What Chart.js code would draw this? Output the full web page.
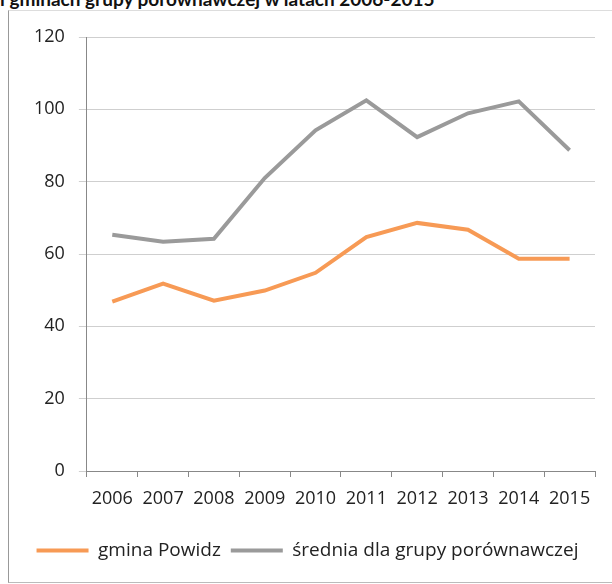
<!DOCTYPE html>
<html>
<head>
<meta charset="utf-8">
<script src="https://cdn.jsdelivr.net/npm/chart.js@4/dist/chart.umd.min.js"></script>
<style>
  html, body { margin: 0; padding: 0; background: #fff; }
  body { width: 612px; height: 584px; position: relative; overflow: hidden; }
  #title { position: absolute; left: 0; top: -13px; font: bold 19px Lato, sans-serif; color: #111; white-space: nowrap; }
  #frame { position: absolute; left: 8px; top: 10px; width: 640px; height: 571px; border-left: 1px solid #999; border-top: 1px solid #ddd; border-bottom: 1px solid #bbb; }
  #wrap { position: absolute; left: 0; top: 0; width: 612px; height: 584px; }
</style>
</head>
<body>
<div id="title">i gminach grupy porównawczej w latach 2006-2015</div>
<div id="frame"></div>
<div id="wrap"><canvas id="myChart"></canvas></div>
<script>
const years = ['2006', '2007', '2008', '2009', '2010', '2011', '2012', '2013', '2014', '2015'];
const powidz = [46.8, 51.8, 47.1, 49.9, 54.8, 64.7, 68.6, 66.7, 58.7, 58.7];
const srednia = [65.3, 63.4, 64.2, 81.0, 94.2, 102.5, 92.3, 98.9, 102.2, 88.7];
const yTicks = [0, 20, 40, 60, 80, 100, 120];

const ctx = document.getElementById('myChart');
const myChart = new Chart(ctx, {
    type: 'line',
    data: {
        labels: years,
        datasets: [{
            label: 'gmina Powidz',
            data: powidz,
            borderColor: '#f79a55',
            backgroundColor: '#f79a55',
            borderWidth: 4,
            pointRadius: 0,
            tension: 0,
        }, {
            label: 'średnia dla grupy porównawczej',
            data: srednia,
            borderColor: '#9a9a9a',
            backgroundColor: '#9a9a9a',
            borderWidth: 4,
            pointRadius: 0,
            tension: 0,
        }]
    },
    options: {
        responsive: true,
        maintainAspectRatio: false,
        animation: false,
        layout: {
            padding: { left: 20, right: 17, top: 37, bottom: 14 },
        },
        plugins: {
            legend: {
                position: 'bottom',
                labels: {
                    font: { family: 'Open Sans', size: 19 },
                    color: '#222',
                    boxWidth: 52,
                    boxHeight: 4,
                    padding: 10,
                    generateLabels: chart => Chart.defaults.plugins.legend.labels.generateLabels(chart)
                        .map(l => Object.assign(l, { lineWidth: 0 })),
                },
            },
            title: { display: false },
            tooltip: { enabled: false },
        },
        scales: {
            x: {
                offset: true,
                afterFit: axis => { axis.height = 60; },
                grid: {
                    display: true,
                    drawOnChartArea: false,
                    offset: true,
                    tickLength: 6,
                    color: '#888',
                },
                border: { color: '#888' },
                ticks: {
                    font: { family: 'Open Sans', size: 18 },
                    color: '#222',
                    maxRotation: 0,
                    padding: 11,
                },
            },
            y: {
                min: 0,
                max: 120,
                afterBuildTicks: axis => { axis.ticks = yTicks.map(v => ({ value: v })); },
                grid: {
                    color: '#cfcfcf',
                    tickLength: 8,
                },
                border: { color: '#888' },
                ticks: {
                    font: { family: 'Open Sans', size: 18 },
                    color: '#222',
                    padding: 14,
                },
            },
        },
    },
});
</script>
</body>
</html>
